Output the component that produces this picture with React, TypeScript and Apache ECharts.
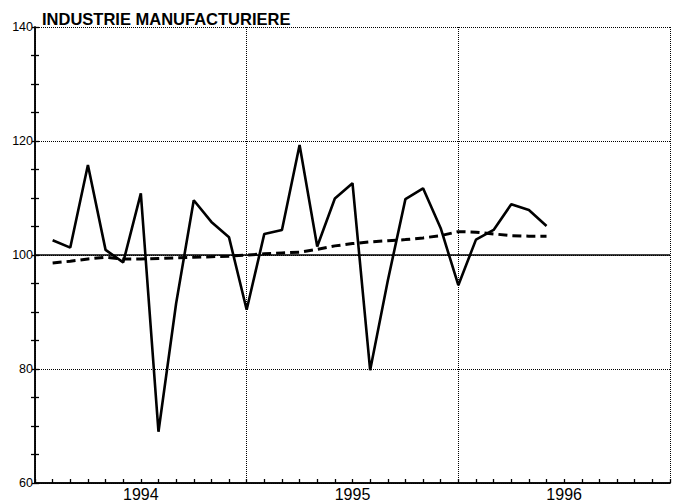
import React, { useEffect, useRef } from 'react';
import * as echarts from 'echarts';

const titleText = 'INDUSTRIE MANUFACTURIERE';
const baseYear = 1994;
const yearLabels = ['1994', '1995', '1996'];
const referenceLevel = 100;

const periods = [
  '1994-02', '1994-03', '1994-04', '1994-05', '1994-06', '1994-07', '1994-08', '1994-09', '1994-10', '1994-11', '1994-12',
  '1995-01', '1995-02', '1995-03', '1995-04', '1995-05', '1995-06', '1995-07', '1995-08', '1995-09', '1995-10', '1995-11', '1995-12',
  '1996-01', '1996-02', '1996-03', '1996-04', '1996-05', '1996-06',
];

const actual = [
  102.6, 101.3, 115.8, 100.9, 98.7, 110.8, 69.0, 91.5, 109.6, 105.8, 103.1,
  90.4, 103.7, 104.4, 119.3, 101.5, 109.9, 112.6, 79.8, 95.5, 109.8, 111.7, 104.7,
  94.7, 102.7, 104.4, 108.9, 107.9, 105.1,
];

const trend = [
  98.6, 98.9, 99.3, 99.6, 99.3, 99.3, 99.4, 99.5, 99.6, 99.7, 99.8,
  100.0, 100.2, 100.35, 100.5, 101.0, 101.6, 102.0, 102.3, 102.5, 102.7, 103.0, 103.4,
  104.1, 104.0, 103.7, 103.4, 103.3, 103.3,
];

const FONT = 'Liberation Sans, Arial, Helvetica, sans-serif';

function monthIndex(p: string): number {
  const [y, m] = p.split('-').map(Number);
  return (y - baseYear) * 12 + (m - 1);
}

export default function App() {
  const ref = useRef<HTMLDivElement>(null);
  useEffect(() => {
    const chart = echarts.init(ref.current!, null, { renderer: 'svg' });
    const xs = periods.map(monthIndex);
    const totalMonths = yearLabels.length * 12;
    const tickStyle = { color: '#000', width: 1.3 };
    const axisLineStyle = { color: '#000', width: 1.5 };
    chart.setOption({
      animation: false,
      backgroundColor: '#fff',
      title: {
        text: titleText,
        left: 37,
        top: 5,
        textStyle: { fontFamily: FONT, fontSize: 16.5, fontWeight: 'bold', color: '#000' },
      },
      grid: { left: 35, right: 1, top: 27, bottom: 19, containLabel: false },
      xAxis: [
        {
          type: 'value',
          min: 0,
          max: totalMonths,
          interval: 6,
          axisLine: { show: true, onZero: false, lineStyle: axisLineStyle },
          axisTick: { show: false },
          axisLabel: {
            show: true,
            margin: 3,
            color: '#000',
            fontFamily: FONT,
            fontSize: 16,
            showMinLabel: true,
            showMaxLabel: true,
            formatter: (v: number) => {
              if (v % 12 === 6) return yearLabels[(v - 6) / 12] ?? '';
              return '';
            },
          },
          splitLine: { show: false },
        },
        {
          type: 'value',
          min: 0,
          max: totalMonths,
          interval: 12,
          position: 'bottom',
          axisLine: { show: false, onZero: false },
          axisTick: { show: false },
          axisLabel: { show: false },
          splitLine: { show: true, lineStyle: { color: '#000', width: 1, type: 'dotted' } },
        },
        {
          type: 'value',
          min: 0,
          max: totalMonths,
          interval: 1,
          position: 'bottom',
          axisLine: { show: true, onZero: false, lineStyle: axisLineStyle },
          axisTick: { show: true, inside: true, length: 4, lineStyle: tickStyle },
          axisLabel: { show: false },
          splitLine: { show: false },
        },
      ],
      yAxis: [
        {
          type: 'value',
          min: 60,
          max: 140,
          interval: 20,
          axisLine: { show: true, onZero: false, lineStyle: axisLineStyle },
          axisTick: { show: true, inside: false, length: 3, lineStyle: tickStyle },
          minorTick: { show: true, splitNumber: 4, length: 4, lineStyle: tickStyle },
          axisLabel: { color: '#000', fontFamily: FONT, fontSize: 12.5, margin: 2 },
          splitLine: { show: true, lineStyle: { color: '#000', width: 1, type: 'dotted' } },
        },
        {
          type: 'value',
          min: 60,
          max: 140,
          interval: 5,
          position: 'left',
          axisLine: { show: true, onZero: false, lineStyle: axisLineStyle },
          axisTick: { show: true, inside: true, length: 4, lineStyle: tickStyle },
          axisLabel: { show: false },
          splitLine: { show: false },
        },
      ],
      series: [
        {
          type: 'line',
          name: 'tendance',
          data: xs.map((x, i) => [x, trend[i]]),
          showSymbol: false,
          lineStyle: { color: '#000', width: 3, type: [9, 5] },
          z: 3,
        },
        {
          type: 'line',
          name: 'brut',
          data: xs.map((x, i) => [x, actual[i]]),
          showSymbol: false,
          lineStyle: { color: '#000', width: 2.6 },
          z: 4,
          markLine: {
            silent: true,
            symbol: 'none',
            label: { show: false },
            lineStyle: { color: '#000', width: 1.5, type: 'solid' },
            data: [{ yAxis: referenceLevel }],
          },
        },
      ],
    });
    return () => chart.dispose();
  }, []);
  return <div ref={ref} style={{ position: 'fixed', left: 0, top: 0, width: 673, height: 502 }} />;
}
